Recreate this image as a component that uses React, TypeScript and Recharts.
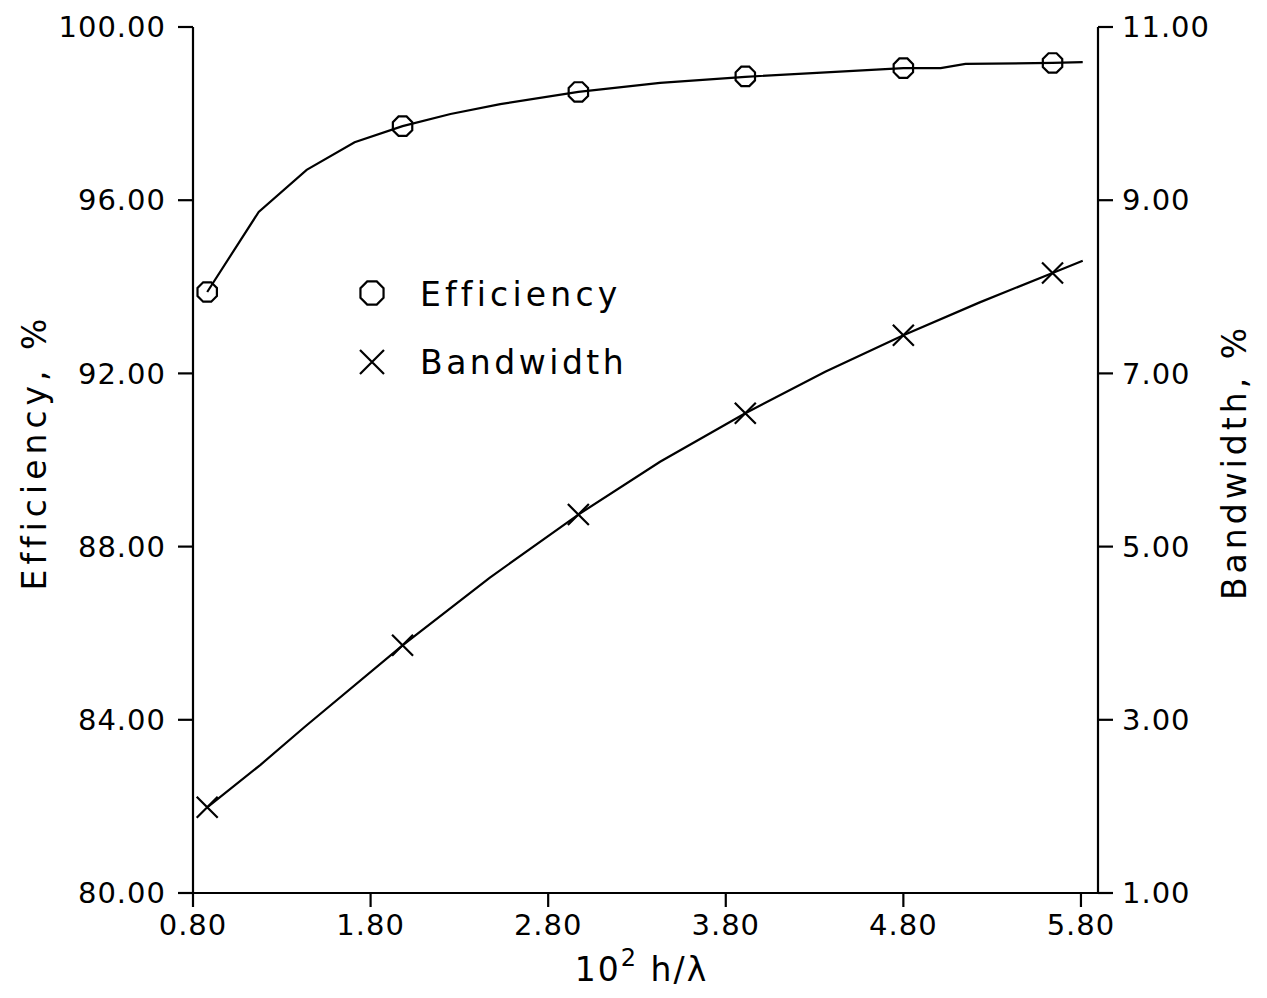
import React from "react";
import {
  ComposedChart,
  Line,
  Scatter,
  XAxis,
  YAxis,
  Legend,
} from "recharts";

// x = 10^2 h/lambda
const effMarkX = [0.88, 1.98, 2.97, 3.91, 4.8, 5.64];
const effMarkY = [93.88, 97.71, 98.5, 98.86, 99.05, 99.17];
const bwMarkX = [0.88, 1.98, 2.97, 3.91, 4.8, 5.64];
const bwMarkY = [1.99, 3.86, 5.37, 6.54, 7.44, 8.16];

// fitted curves as plotted (vertices)
const effCurveX = [0.88, 1.17, 1.44, 1.71, 1.98, 2.25, 2.53, 2.97, 3.43, 3.91, 4.39, 4.8, 5.01, 5.15, 5.64, 5.81];
const effCurveY = [93.88, 95.73, 96.7, 97.34, 97.71, 97.99, 98.22, 98.5, 98.71, 98.85, 98.96, 99.05, 99.05, 99.15, 99.17, 99.19];
const bwCurveX = [0.88, 1.18, 1.43, 1.98, 2.47, 2.97, 3.43, 3.91, 4.36, 4.8, 5.23, 5.64, 5.81];
const bwCurveY = [1.99, 2.48, 2.92, 3.86, 4.64, 5.37, 5.98, 6.54, 7.02, 7.44, 7.82, 8.16, 8.3];

const xTicks = [0.8, 1.8, 2.8, 3.8, 4.8, 5.8];
const effTicks = [80, 84, 88, 92, 96, 100];
const bwTicks = [1, 3, 5, 7, 9, 11];

const effMarks = effMarkX.map((x, i) => ({ x, y: effMarkY[i] }));
const bwMarks = bwMarkX.map((x, i) => ({ x, y: bwMarkY[i] }));
const effCurve = effCurveX.map((x, i) => ({ x, y: effCurveY[i] }));
const bwCurve = bwCurveX.map((x, i) => ({ x, y: bwCurveY[i] }));

const FONT = "'DejaVu Sans', sans-serif";
const tickStyle = { fill: "#000", fontSize: 29, fontFamily: FONT, letterSpacing: 1 };

const octagon = (cx: number, cy: number, r: number) => {
  const pts = [];
  for (let k = 0; k < 8; k++) {
    const a = (Math.PI / 8) * (2 * k + 1);
    pts.push(`${cx + r * Math.cos(a)},${cy + r * Math.sin(a)}`);
  }
  return pts.join(" ");
};

const CircleMark = (props: any) => (
  <polygon
    points={octagon(props.cx, props.cy, 10.5)}
    fill="none"
    stroke="#000"
    strokeWidth={2.2}
  />
);

const CrossMark = (props: any) => {
  const { cx, cy } = props;
  const s = 10.5;
  return (
    <path
      d={`M${cx - s},${cy - s}L${cx + s},${cy + s}M${cx - s},${cy + s}L${cx + s},${cy - s}`}
      stroke="#000"
      strokeWidth={2.2}
      fill="none"
    />
  );
};

const LegendBox = () => (
  <svg width={320} height={130}>
    <polygon points={octagon(32, 28, 12.5)} fill="none" stroke="#000" strokeWidth={2.2} />
    <text x={80} y={41} fontSize={33} fontFamily={FONT} letterSpacing={4.2}>
      Efficiency
    </text>
    <path d="M20,85L44,109M20,109L44,85" stroke="#000" strokeWidth={2.2} />
    <text x={80} y={109} fontSize={33} fontFamily={FONT} letterSpacing={3.5}>
      Bandwidth
    </text>
  </svg>
);

const LeftLabel = ({ viewBox }: any) => {
  const x = viewBox.x + 46;
  const y = viewBox.y + viewBox.height / 2 - 8;
  return (
    <text
      x={x}
      y={y}
      transform={`rotate(-90 ${x} ${y})`}
      textAnchor="middle"
      fontSize={33}
      fontFamily={FONT}
      letterSpacing={5}
    >
      Efficiency, %
    </text>
  );
};

const RightLabel = ({ viewBox }: any) => {
  const x = viewBox.x + 148;
  const y = viewBox.y + viewBox.height / 2 + 2;
  return (
    <text
      x={x}
      y={y}
      transform={`rotate(-90 ${x} ${y})`}
      textAnchor="middle"
      fontSize={33}
      fontFamily={FONT}
      letterSpacing={4}
    >
      Bandwidth, %
    </text>
  );
};

const BottomLabel = ({ viewBox }: any) => {
  const x = viewBox.x + viewBox.width / 2 - 4;
  const y = viewBox.y + 88;
  return (
    <text x={x} y={y} textAnchor="middle" fontSize={33} fontFamily={FONT} letterSpacing={2}>
      10
      <tspan dy={-15} fontSize={24}>2</tspan>
      <tspan dy={15}>{"  h/\u03bb"}</tspan>
    </text>
  );
};

const axisLine = { stroke: "#000", strokeWidth: 2.2 };

export default function App() {
  return (
    <div style={{ position: "absolute", left: 0, top: 0, background: "#fff" }}>
      <ComposedChart
        width={1267}
        height={998}
        margin={{ top: 27, right: 0, bottom: 0, left: 0 }}
      >
        <XAxis
          dataKey="x"
          type="number"
          domain={[0.8, 5.896]}
          ticks={xTicks}
          allowDataOverflow
          tickFormatter={(v: number) => v.toFixed(2)}
          height={105}
          tickSize={14}
          tickMargin={7}
          tick={tickStyle}
          axisLine={axisLine}
          tickLine={axisLine}
          label={<BottomLabel />}
        />
        <YAxis
          yAxisId="eff"
          orientation="left"
          type="number"
          domain={[80, 100]}
          ticks={effTicks}
          allowDataOverflow
          tickFormatter={(v: number) => v.toFixed(2)}
          width={193}
          tickSize={15}
          tickMargin={12}
          tick={tickStyle}
          axisLine={axisLine}
          tickLine={axisLine}
          label={<LeftLabel />}
        />
        <YAxis
          yAxisId="bw"
          orientation="right"
          type="number"
          domain={[1, 11]}
          ticks={bwTicks}
          allowDataOverflow
          tickFormatter={(v: number) => v.toFixed(2)}
          width={169}
          tickSize={15}
          tickMargin={9}
          tick={tickStyle}
          axisLine={axisLine}
          tickLine={axisLine}
          label={<RightLabel />}
        />
        <Line
          yAxisId="eff"
          data={effCurve}
          dataKey="y"
          type="linear"
          stroke="#000"
          strokeWidth={2.2}
          dot={false}
          activeDot={false}
          isAnimationActive={false}
          legendType="none"
        />
        <Line
          yAxisId="bw"
          data={bwCurve}
          dataKey="y"
          type="linear"
          stroke="#000"
          strokeWidth={2.2}
          dot={false}
          activeDot={false}
          isAnimationActive={false}
          legendType="none"
        />
        <Scatter
          yAxisId="eff"
          data={effMarks}
          dataKey="y"
          name="Efficiency"
          shape={<CircleMark />}
          isAnimationActive={false}
        />
        <Scatter
          yAxisId="bw"
          data={bwMarks}
          dataKey="y"
          name="Bandwidth"
          shape={<CrossMark />}
          isAnimationActive={false}
        />
        <Legend
          layout="vertical"
          align="center"
          verticalAlign="middle"
          content={<LegendBox />}
          wrapperStyle={{ position: "absolute", left: 340, top: 265, width: 320, height: 130 }}
        />
      </ComposedChart>
    </div>
  );
}
